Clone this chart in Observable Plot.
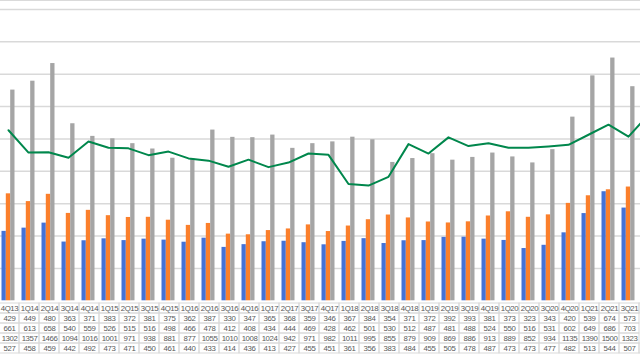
<!DOCTYPE html>
<html><head><meta charset="utf-8">
<script src="https://cdn.jsdelivr.net/npm/d3@7"></script>
<script src="https://cdn.jsdelivr.net/npm/@observablehq/plot@0.6"></script>
<style>
html,body{margin:0;padding:0;background:#fff;}
#wrap{width:640px;height:360px;overflow:hidden;position:relative;}
#wrap svg{display:block;overflow:hidden;}
#wrap svg.tbl text{letter-spacing:-0.4px;}
#topline{position:absolute;left:0;top:0;width:640px;height:1px;background:#dadada;}
</style></head><body><div id="wrap"><div id="topline"></div></div>
<script>
const quarters = ["4Q13","1Q14","2Q14","3Q14","4Q14","1Q15","2Q15","3Q15","4Q15","1Q16","2Q16","3Q16","4Q16","1Q17","2Q17","3Q17","4Q17","1Q18","2Q18","3Q18","4Q18","1Q19","2Q19","3Q19","4Q19","1Q20","2Q20","3Q20","4Q20","1Q21","2Q21","3Q21","4Q21"];
const blue   = [429,449,480,363,371,383,372,381,375,362,387,330,347,365,368,359,346,367,384,354,371,372,392,393,381,373,323,343,420,539,674,573,null];
const orange = [661,613,658,540,559,526,515,516,498,466,478,412,408,434,444,469,428,462,501,530,512,487,481,488,524,550,516,531,602,649,686,703,null];
const gray   = [1302,1357,1466,1094,1016,1001,971,938,881,877,1055,1010,1008,1024,942,971,982,1011,995,855,879,909,869,886,913,889,852,934,1135,1390,1500,1323,null];
const green  = [527,458,459,442,492,473,471,450,461,440,433,414,436,413,427,455,451,361,356,383,484,455,505,478,487,473,473,477,482,513,544,507,575];
const yTicks = [200,400,600,800,1000,1200,1400,1600,1800];
const rows = ["label","blue","orange","gray","green"];

const data = quarters.map((q,i)=>({q, blue:blue[i], orange:orange[i], gray:gray[i], green:green[i]}));

const chart = Plot.plot({
  width: 640, height: 301,
  marginTop: 9, marginBottom: 0.7, marginLeft: 0, marginRight: 0,
  x: {type: "band", domain: quarters, range: [-2.5, 657.5], padding: 0, axis: null},
  y: {domain: [0, 1800], axis: null},
  marks: [
    Plot.ruleY(yTicks, {stroke: "#d9d9d9", strokeWidth: 1.5}),
    Plot.barY(data, {x: "q", y: "blue", fill: "#4472d8", insetLeft: 3.5, insetRight: 12.2}),
    Plot.barY(data, {x: "q", y: "orange", fill: "#fb7f2b", insetLeft: 7.8, insetRight: 7.8}),
    Plot.barY(data, {x: "q", y: "gray", fill: "#a5a5a5", insetLeft: 12.2, insetRight: 3.5}),
    Plot.line(data, {x: "q", y: d => d.green * 2, stroke: "#00874c", strokeWidth: 2})
  ]
});

const cells = [];
quarters.forEach((q,i)=>{
  const vals = {label: q, blue: blue[i], orange: orange[i], gray: gray[i], green: green[i]};
  rows.forEach(r => { if (vals[r] != null) cells.push({q, row: r, t: String(vals[r])}); });
});

const table = Plot.plot({
  width: 640, height: 59, margin: 0,
  x: {type: "band", domain: quarters, range: [-1.5, 658.5], padding: 0, axis: null},
  y: {type: "band", domain: rows, range: [0.2, 53.8], padding: 0, axis: null},
  marks: [
    Plot.cell(cells, {x: "q", y: "row", fill: "none", stroke: "#d9d9d9", strokeWidth: 1}),
    Plot.text(cells, {x: "q", y: "row", text: "t", fill: "#595959", fontSize: 7.8,
      fontFamily: "'Liberation Sans', Arial, sans-serif"})
  ]
});
table.classList.add("tbl");

const wrap = document.getElementById("wrap");
wrap.insertBefore(chart, wrap.firstChild);
wrap.insertBefore(table, chart.nextSibling);
</script>
</body></html>
